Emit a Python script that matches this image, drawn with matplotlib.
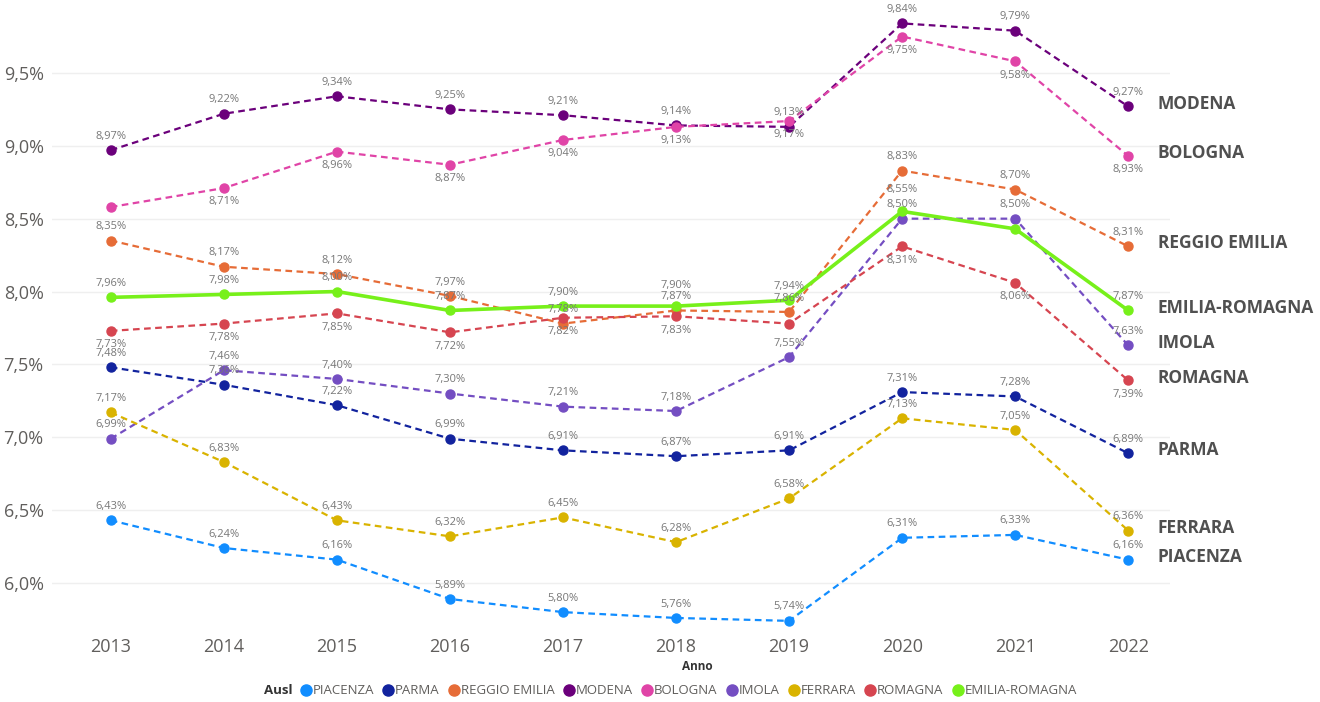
import matplotlib
matplotlib.use('Agg')
import matplotlib.pyplot as plt
from matplotlib.lines import Line2D

plt.rcParams['font.family'] = ['Open Sans', 'DejaVu Sans']

years = [2013, 2014, 2015, 2016, 2017, 2018, 2019, 2020, 2021, 2022]

piacenza = [6.43, 6.24, 6.16, 5.89, 5.80, 5.76, 5.74, 6.31, 6.33, 6.16]
parma = [7.48, 7.36, 7.22, 6.99, 6.91, 6.87, 6.91, 7.31, 7.28, 6.89]
reggio_emilia = [8.35, 8.17, 8.12, 7.97, 7.78, 7.87, 7.86, 8.83, 8.70, 8.31]
modena = [8.97, 9.22, 9.34, 9.25, 9.21, 9.14, 9.13, 9.84, 9.79, 9.27]
bologna = [8.58, 8.71, 8.96, 8.87, 9.04, 9.13, 9.17, 9.75, 9.58, 8.93]
imola = [6.99, 7.46, 7.40, 7.30, 7.21, 7.18, 7.55, 8.50, 8.50, 7.63]
ferrara = [7.17, 6.83, 6.43, 6.32, 6.45, 6.28, 6.58, 7.13, 7.05, 6.36]
romagna = [7.73, 7.78, 7.85, 7.72, 7.82, 7.83, 7.78, 8.31, 8.06, 7.39]
emilia_romagna = [7.96, 7.98, 8.00, 7.87, 7.90, 7.90, 7.94, 8.55, 8.43, 7.87]

names = ['PIACENZA', 'PARMA', 'REGGIO EMILIA', 'MODENA', 'BOLOGNA',
         'IMOLA', 'FERRARA', 'ROMAGNA', 'EMILIA-ROMAGNA']
series = [piacenza, parma, reggio_emilia, modena, bologna,
          imola, ferrara, romagna, emilia_romagna]
colors = ['#118DFF', '#12239E', '#E66C37', '#6B007B', '#E044A7',
          '#744EC2', '#D9B300', '#D64550', '#77F01A']
# label above (+1) or below (-1) the point
label_side = [1, 1, 1, 1, -1, 1, 1, -1, 1]
# labels Power BI hid because of overlap
hidden = {('BOLOGNA', 2013), ('EMILIA-ROMAGNA', 2021), ('ROMAGNA', 2019)}
# labels pushed a bit further up to dodge a neighbour
extra = {('EMILIA-ROMAGNA', 2018): 5, ('EMILIA-ROMAGNA', 2020): 6}

fig = plt.figure(figsize=(13.2, 7.02), dpi=100)
ax = fig.add_axes([0.0394, 0.0969, 0.8470, 0.8926])

grey = '#605E5C'

for name, vals, col, side in zip(names, series, colors, label_side):
    if name == 'EMILIA-ROMAGNA':
        ax.plot(years, vals, color=col, lw=2.6, marker='o', ms=6.5, zorder=4)
    else:
        ax.plot(years, vals, color=col, lw=1.6, ls=(0, (3, 2)), marker='o',
                ms=6.5, zorder=3)
    for x, v in zip(years, vals):
        if (name, x) in hidden:
            continue
        off = 10 * side + extra.get((name, x), 0)
        ax.annotate(f'{v:.2f}%'.replace('.', ','), (x, v),
                    xytext=(0, off), textcoords='offset points',
                    ha='center', va='center', fontsize=8, color='#777777',
                    zorder=5)
    ax.text(2022.26, vals[-1] + 0.02, name, fontsize=12.5, fontweight='bold',
            color='#505050', va='center', ha='left', clip_on=False)

ax.set_xlim(2012.48, 2022.37)
ax.set_ylim(5.65, 9.95)
ax.set_xticks(years)
ax.set_yticks([6.0, 6.5, 7.0, 7.5, 8.0, 8.5, 9.0, 9.5])
ax.set_yticklabels([f'{t:.1f}%'.replace('.', ',') for t in ax.get_yticks()])
ax.tick_params(axis='both', length=0, labelsize=13, labelcolor=grey)
ax.tick_params(axis='y', pad=6)
ax.tick_params(axis='x', pad=3)
ax.grid(axis='y', color='#EFEFEF', lw=1)
ax.set_axisbelow(True)
for s in ax.spines.values():
    s.set_visible(False)

fig.text(697 / 1320, 1 - 667 / 702, 'Anno', ha='center', va='center',
         fontsize=8.5, fontweight='bold', color='#333333')

handles = [Line2D([], [], ls='none', marker='o', ms=8, color=c) for c in colors]
fig.legend(handles, names, loc='center', ncol=9, frameon=False,
           bbox_to_anchor=(688 / 1320, 1 - 691 / 702), fontsize=9.5,
           handletextpad=0.0, columnspacing=0.6, labelcolor=grey,
           handlelength=1.0)
fig.text(292 / 1320, 1 - 691 / 702, 'Ausl', ha='right', va='center',
         fontsize=9.5, fontweight='bold', color='#333333')

fig.savefig('out.png', dpi=100)
